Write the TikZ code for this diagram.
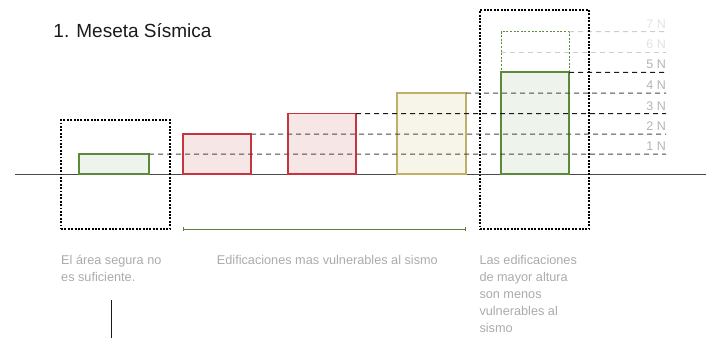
\documentclass[tikz,border=0pt]{standalone}
\usepackage{fontspec}
\setmainfont{Liberation Sans}
\usetikzlibrary{calc}
\definecolor{gstroke}{HTML}{5A8A3A}
\definecolor{gfill}{HTML}{EEF3EC}
\definecolor{rstroke}{HTML}{C8343E}
\definecolor{rfill}{HTML}{F6E6E6}
\definecolor{ystroke}{HTML}{BEB066}
\definecolor{yfill}{HTML}{F7F5EA}
\definecolor{lblgray}{HTML}{ABABAB}
\definecolor{nlgray}{HTML}{B4B4B4}
\definecolor{nlight}{HTML}{E2E2E2}
\definecolor{dgray}{HTML}{4A4A4A}
\definecolor{dblack}{HTML}{1A1A1A}
\definecolor{dlight}{HTML}{CDCDCD}
\definecolor{linegreen}{HTML}{5B7F3B}
\begin{document}
\begin{tikzpicture}[x=1bp,y=-1bp,
  bldg/.style={draw, anchor=south west, inner sep=0pt, outer sep=0pt},
  gbox/.style={bldg, draw=gstroke, fill=gfill, line width=2pt},
  rbox/.style={bldg, draw=rstroke, fill=rfill, line width=1.2pt},
  ybox/.style={bldg, draw=ystroke, fill=yfill, line width=1.3pt},
  ghost/.style={bldg, draw=gstroke, line width=0.8pt, dash pattern=on 2bp off 1.6bp},
  level/.style={line width=1pt, dash pattern=on 5bp off 4bp},
  zone/.style={draw=black, line width=1.9pt, dash pattern=on 1.9bp off 1.5bp, inner sep=0pt, outer sep=0pt, anchor=north west},
  nlabel/.style={anchor=base east, inner sep=0pt, font=\fontsize{12.5bp}{14bp}\selectfont},
  desc/.style={anchor=north west, inner sep=0pt, align=left, text=lblgray, font=\fontsize{12.7bp}{17.2bp}\selectfont}
]
\useasboundingbox (0,0) rectangle (706,338);
% title
\node[anchor=base west, inner sep=0pt, text=dblack, font=\fontsize{19bp}{22bp}\selectfont] (title) at (53.3,37.3) {1. Meseta Sísmica};
% ground
\coordinate (gl) at (15,174);
\coordinate (gr) at (706,174);
\draw[line width=1pt, draw=dgray] (gl) -- (gr);
% buildings
\node[gbox, minimum width=70bp, minimum height=20bp] (g1) at (79,174) {};
\node[rbox, minimum width=68bp, minimum height=40bp] (r1) at (183,174) {};
\node[rbox, minimum width=68bp, minimum height=60.5bp] (r2) at (288,174) {};
\node[ybox, minimum width=69bp, minimum height=81bp] (y1) at (397,174) {};
\node[gbox, minimum width=68bp, minimum height=101.7bp] (g2) at (501,174) {};
\node[ghost, minimum width=68bp, minimum height=40.6bp] (g3) at (501,72.3) {};
% level end points
\coordinate (e1) at (666,154);
\coordinate (e2) at (666,134);
\coordinate (e3) at (666,113.5);
\coordinate (e4) at (666,93);
\coordinate (e5) at (666,72.3);
\coordinate (e6) at (666,52.3);
\coordinate (e7) at (666,31.7);
\coordinate (s6) at (501,52.3);
% level lines
\draw[level, draw=dgray] (g1.north east) -- (e1);
\draw[level, draw=dgray] (r1.north east) -- (e2);
\draw[level, draw=dblack] (r2.north east) -- (e3);
\draw[level, draw=dgray] (y1.north east) -- (e4);
\draw[level, draw=dblack] (g2.north east) -- (e5);
\draw[level, draw=dlight] (s6) -- (e6);
\draw[level, draw=dlight] (g3.north east) -- (e7);
% level labels
\node[nlabel, text=nlgray] (n1) at ($(e1)+(0,-3.4)$) {1 N};
\node[nlabel, text=nlgray] (n2) at ($(e2)+(0,-3.4)$) {2 N};
\node[nlabel, text=nlgray] (n3) at ($(e3)+(0,-3.4)$) {3 N};
\node[nlabel, text=nlgray] (n4) at ($(e4)+(0,-3.4)$) {4 N};
\node[nlabel, text=nlgray] (n5) at ($(e5)+(0,-3.4)$) {5 N};
\node[nlabel, text=nlight] (n6) at ($(e6)+(0,-3.4)$) {6 N};
\node[nlabel, text=nlight] (n7) at ($(e7)+(0,-3.4)$) {7 N};
% dotted zones
\node[zone, minimum width=109bp, minimum height=109.3bp] (z1) at (61,120) {};
\node[zone, minimum width=109bp, minimum height=219.3bp] (z2) at (480,10) {};
% span line
\coordinate (sa) at (183,229.3);
\coordinate (sb) at (465.3,229.3);
\draw[draw=linegreen, line width=0.9pt] (sa) -- (sb);
\draw[draw=linegreen, line width=0.9pt] ($(sa)+(0,-2)$) -- ($(sa)+(0,2)$);
\draw[draw=linegreen, line width=0.9pt] ($(sb)+(0,-2)$) -- ($(sb)+(0,2)$);
% descriptions
\node[desc] (t1) at (61,254.6) {El área segura no\\es suficiente.};
\node[desc] (t2) at (216.7,254.6) {Edificaciones mas vulnerables al sismo};
\node[desc] (t3) at (479.3,254.6) {Las edificaciones\\de mayor altura\\son menos\\vulnerables al\\sismo};
% vertical mark
\coordinate (va) at (111.3,300);
\coordinate (vb) at (111.3,338);
\draw[draw=dblack, line width=1.3pt] (va) -- (vb);
\end{tikzpicture}
\end{document}
